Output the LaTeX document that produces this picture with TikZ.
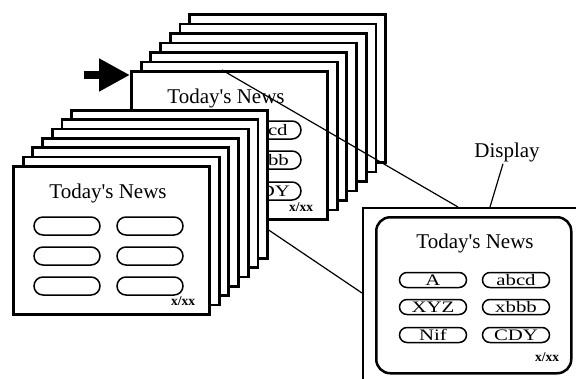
\documentclass[tikz,border=0pt]{standalone}
\usepackage{fontspec}
\setmainfont{Liberation Serif}
\newfontfamily\btnfont[FakeStretch=1.3]{Liberation Serif}
\usetikzlibrary{arrows.meta,positioning,calc,shapes}

\begin{document}
\begin{tikzpicture}[x=1pt,y=-1pt,
page/.style={rectangle,draw,line width=2.8pt,fill=white,minimum width=196pt,minimum height=148pt,anchor=north west,inner sep=0pt},
ttl/.style={inner sep=0pt,font=\fontsize{21}{21}\selectfont},
btn/.style={rounded rectangle,draw,line width=1.5pt,fill=white,minimum width=66pt,minimum height=18pt,inner sep=0pt,font=\btnfont\fontsize{16}{16}\selectfont},
sbtn/.style={btn,minimum width=67pt,minimum height=15pt},
pgno/.style={inner sep=0pt,font=\bfseries\fontsize{13.5}{13.5}\selectfont},
link/.style={line width=1.2pt}]
\clip[use as bounding box] (0,0) rectangle (576,378);
\fill[white] (0,0) rectangle (576,378);
\foreach \i in {6,5,...,0}
  \node[page] (b\i) at ({130+9.7*\i},{70-9.5*\i}) {};
\node[ttl] (bt) at ($(b0.north west)+(96,28)$) {Today\textquotesingle s News};
\node[btn] (bb1) at ($(b0.north west)+(138,60)$) {abcd};
\node[btn] (bb2) at ($(b0.north west)+(138,90)$) {xbbb};
\node[btn] (bb3) at ($(b0.north west)+(138,121)$) {CDY};
\node[pgno] (bn) at ($(b0.north west)+(171,137)$) {x/xx};
\coordinate (ptr) at ($(b0.north west)+(0,5)$);
\coordinate[left=46pt of ptr] (ptail);
\draw[line width=8pt,-{Triangle[length=31pt,width=31pt]}] (ptail) -- (ptr);
\node[draw,line width=2.2pt,minimum width=260pt,minimum height=200pt,anchor=north west] (disp) at (362,207) {};
\node[draw,line width=2.5pt,rounded corners=14pt,minimum width=195pt,minimum height=156pt,anchor=north west] (scr) at (375,216) {};
\node[ttl] (st) at ($(scr.north west)+(100,27)$) {Today\textquotesingle s News};
\node[sbtn] (s1) at ($(scr.north west)+(58,64)$) {A};
\node[sbtn] (s2) at ($(scr.north west)+(58,91)$) {XYZ};
\node[sbtn] (s3) at ($(scr.north west)+(58,119)$) {Nif};
\node[sbtn] (s4) at ($(scr.north west)+(141,64)$) {abcd};
\node[sbtn] (s5) at ($(scr.north west)+(141,91)$) {xbbb};
\node[sbtn] (s6) at ($(scr.north west)+(141,119)$) {CDY};
\node[pgno] (sn) at ($(scr.north west)+(172,141)$) {x/xx};
\node[ttl] (dl) at (507,152) {Display};
\draw[link] (dl.south) ++(-4,2) -- ($(disp.north west)+(128,0)$);
\draw[link] ($(b0.north west)+(92,0)$) -- ($(disp.north west)+(96,0)$);
\draw[link] ($(b0.south west)+(125,0)$) -- ($(disp.north west)+(0,86)$);
\foreach \i in {6,5,...,0}
  \node[page] (f\i) at ({12+9.7*\i},{165-9.35*\i}) {};
\node[ttl] (ft) at ($(f0.north west)+(96,28)$) {Today\textquotesingle s News};
\foreach \c/\x in {1/55,2/138}
  \foreach \r/\y in {1/61,2/91,3/121}
    \node[btn] (fb\c\r) at ($(f0.north west)+(\x,\y)$) {};
\node[pgno] (fn) at ($(f0.north west)+(171,136)$) {x/xx};
\end{tikzpicture}
\end{document}
